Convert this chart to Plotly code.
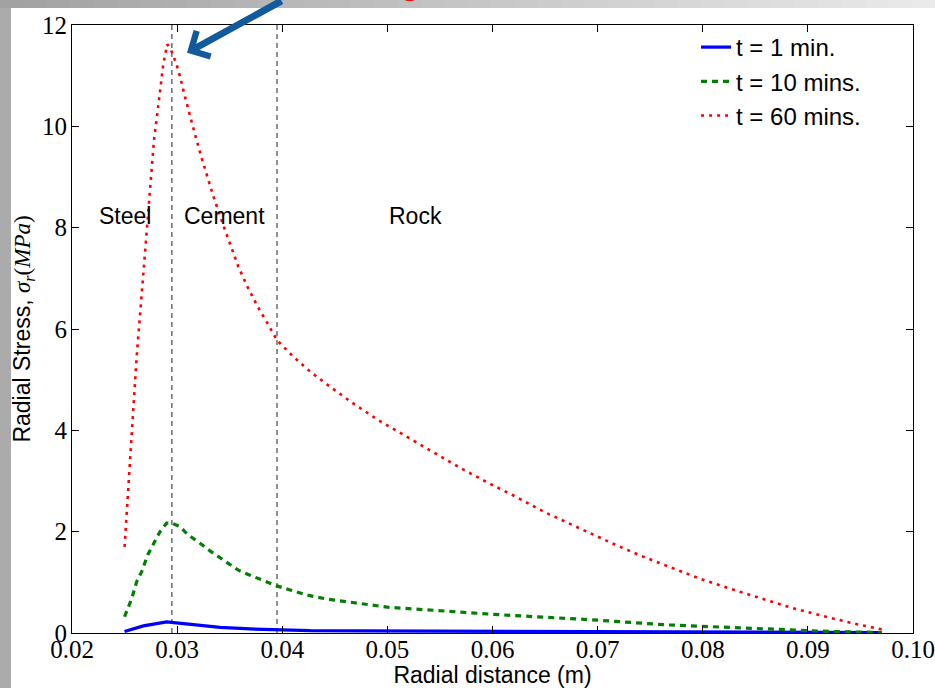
import plotly.graph_objects as go

# ---- data ----
r_60 = [0.0250, 0.02556, 0.02615, 0.02679, 0.02736, 0.02780, 0.02831, 0.02869, 0.02907,
        0.02949, 0.02996, 0.03028, 0.03075, 0.03123, 0.03177, 0.03234, 0.03287, 0.03351,
        0.03449, 0.03519, 0.03582, 0.03677, 0.03767, 0.03852, 0.03950,
        0.04106, 0.04265, 0.04423, 0.04661, 0.04915, 0.05168, 0.05428, 0.05692, 0.05952,
        0.06222, 0.06491, 0.06850, 0.07128, 0.07404, 0.07683, 0.07975, 0.08251, 0.08537,
        0.08825, 0.09117, 0.09409, 0.09704]
s_60 = [1.70, 3.61, 5.45, 7.10, 8.61, 9.73, 10.58, 11.24, 11.62,
        11.47, 11.21, 10.98, 10.58, 10.19, 9.79, 9.37, 9.01, 8.58,
        7.99, 7.59, 7.23, 6.80, 6.44, 6.14, 5.78,
        5.45, 5.16, 4.91, 4.55, 4.20, 3.89, 3.57, 3.26, 2.97,
        2.69, 2.39, 2.04, 1.78, 1.53, 1.30, 1.07, 0.88, 0.69,
        0.51, 0.35, 0.20, 0.07]

r_10 = [0.0250, 0.02568, 0.02615, 0.02663, 0.02720, 0.02774, 0.02837, 0.02901, 0.02949,
        0.03028, 0.03097, 0.03218, 0.03313, 0.03440, 0.03582, 0.03694, 0.03820, 0.03948,
        0.04074, 0.04233, 0.04423, 0.04709, 0.05000, 0.06070, 0.06950, 0.07658, 0.08102,
        0.08610, 0.09212, 0.09704]
s_10 = [0.32, 0.68, 1.01, 1.21, 1.54, 1.74, 2.00, 2.17, 2.17,
        2.10, 1.95, 1.77, 1.62, 1.44, 1.24, 1.14, 1.03, 0.93,
        0.85, 0.75, 0.67, 0.59, 0.51, 0.36, 0.26, 0.16, 0.12,
        0.07, 0.03, 0.01]

r_1 = [0.0250, 0.02679, 0.02901, 0.03000, 0.03186, 0.03408, 0.03694, 0.03948, 0.04265,
       0.04740, 0.06000, 0.08000, 0.09704]
s_1 = [0.03, 0.14, 0.22, 0.20, 0.16, 0.11, 0.08, 0.06, 0.045,
       0.04, 0.03, 0.02, 0.01]

interfaces = [0.0295, 0.0395]
region_labels = ["Steel", "Cement", "Rock"]
region_x = [0.02504, 0.03451, 0.05264]
region_y = 8.24

x_ticks = [0.02, 0.03, 0.04, 0.05, 0.06, 0.07, 0.08, 0.09, 0.10]
x_ticktext = ["0.02", "0.03", "0.04", "0.05", "0.06", "0.07", "0.08", "0.09", "0.10"]
y_ticks = [0, 2, 4, 6, 8, 10, 12]

SANS = "Liberation Sans, Arial, sans-serif"
SERIF = "Liberation Serif, DejaVu Serif, serif"

fig = go.Figure()
fig.add_trace(go.Scatter(x=r_1, y=s_1, mode="lines", name="t = 1 min.",
                         line=dict(color="#0000ff", width=3.2)))
fig.add_trace(go.Scatter(x=r_10, y=s_10, mode="lines", name="t = 10 mins.",
                         line=dict(color="#007f00", width=3.2, dash="6px,5px")))
fig.add_trace(go.Scatter(x=r_60, y=s_60, mode="lines", name="t = 60 mins.",
                         line=dict(color="#ff0000", width=2.6, dash="3px,5px")))

for xv in interfaces:
    fig.add_shape(type="line", xref="x", yref="y", x0=xv, x1=xv, y0=0, y1=12,
                  line=dict(color="#555555", width=1.3, dash="5px,4px"), layer="below")

for lab, xv in zip(region_labels, region_x):
    fig.add_annotation(x=xv, y=region_y, xref="x", yref="y", text=lab, showarrow=False,
                       font=dict(family=SANS, size=23, color="black"),
                       xanchor="center", yanchor="middle")

# page decorations: grey frame strip on the left and gradient band on top
W, H = 935, 688
L, R, T, B = 72, 22, 25, 55
pw, ph = W - L - R, H - T - B

def px_to_paper_x(p):
    return (p - L) / pw

def px_to_paper_y(p):
    return (H - B - p) / ph

fig.add_shape(type="rect", xref="paper", yref="paper",
              x0=px_to_paper_x(0), x1=px_to_paper_x(11),
              y0=px_to_paper_y(H), y1=px_to_paper_y(0),
              fillcolor="#ababab", line=dict(width=0), layer="below")
n = 40
c0, c1 = 0xa2, 0xea
for i in range(n):
    xa = W * i / n
    xb = W * (i + 1) / n + 1
    c = int(c0 + (c1 - c0) * i / (n - 1))
    fig.add_shape(type="rect", xref="paper", yref="paper",
                  x0=px_to_paper_x(xa), x1=px_to_paper_x(xb),
                  y0=px_to_paper_y(8), y1=px_to_paper_y(0),
                  fillcolor=f"rgb({c},{c},{c})", line=dict(width=0), layer="below")

# red text cut at the top of the page
fig.add_annotation(xref="paper", yref="paper", x=px_to_paper_x(410), y=px_to_paper_y(3),
                   text="g", showarrow=False, xanchor="center", yanchor="bottom",
                   font=dict(family=SANS, size=40, color="#ff0000"))

# blue arrow pointing at the peak
fig.add_annotation(x=0.03094, y=11.45, xref="x", yref="y", text="", showarrow=True,
                   ax=96, ay=-64, axref="pixel", ayref="pixel",
                   arrowhead=4, arrowsize=0.8, arrowwidth=7, arrowcolor="#135a9c",
                   standoff=0)

axis_common = dict(showline=True, linecolor="black", linewidth=1, mirror="ticks",
                   ticks="inside", ticklen=7, tickcolor="black", tickwidth=1,
                   showgrid=False, zeroline=False,
                   tickfont=dict(family=SERIF, size=25, color="black"))

fig.update_xaxes(range=[0.02, 0.10], tickvals=x_ticks, ticktext=x_ticktext,
                 ticklabelstandoff=-6,
                 title=dict(text="Radial distance (m)", font=dict(family=SANS, size=23, color="black"),
                            standoff=8),
                 **axis_common)
fig.update_yaxes(range=[0, 12], tickvals=y_ticks, ticklabelstandoff=-1,
                 title=dict(text="Radial Stress, <span style='font-family:Liberation Serif'><i>σ<sub>r</sub></i>(<i>MPa</i>)</span>",
                            font=dict(family=SANS, size=23, color="black"), standoff=4),
                 **axis_common)

fig.update_layout(
    width=W, height=H,
    margin=dict(l=L, r=R, t=T, b=B, autoexpand=False),
    paper_bgcolor="white", plot_bgcolor="white",
    showlegend=True,
    legend=dict(x=0.742, y=1.0, xanchor="left", yanchor="top",
                bgcolor="rgba(0,0,0,0)", borderwidth=0,
                font=dict(family=SANS, size=24, color="black"),
                itemwidth=30, tracegroupgap=0),
)

fig.write_html("out.html")
